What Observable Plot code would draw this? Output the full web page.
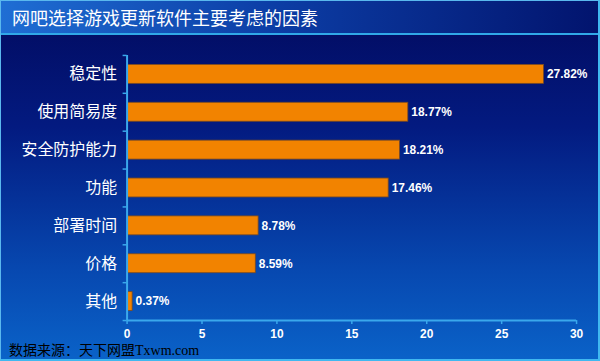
<!DOCTYPE html>
<html><head><meta charset="utf-8">
<script src="https://cdn.jsdelivr.net/npm/d3@7"></script>
<script src="https://cdn.jsdelivr.net/npm/@observablehq/plot@0.6"></script>
<style>
html,body{margin:0;padding:0;}
#wrap{position:relative;width:600px;height:361px;overflow:hidden;box-sizing:border-box;
 background:linear-gradient(to bottom,#020a5e 0%,#031a80 35%,#0748b0 75%,#0a62c8 100%);
 border:1px solid #5ab8ee;border-right:2px solid #40b8f0;border-bottom:2px solid #40b8f0;font-family:"Noto Sans CJK SC",sans-serif;}
#title{position:absolute;left:0;top:0;width:100%;height:34px;box-sizing:border-box;
 background:linear-gradient(to right,#1f6ed4 0%,#0c3ea6 45%,#02146e 100%);border-bottom:2px solid #30a8e8;
 color:#fff;font-size:18px;line-height:33px;padding-left:11px;}
#chart{position:absolute;left:-1px;top:36px;}
#caption{position:absolute;left:8px;top:342px;font-family:"Liberation Serif","Noto Sans CJK SC",serif;font-size:14px;line-height:15px;color:#000;}
</style></head>
<body><div id="wrap">
<div id="title">网吧选择游戏更新软件主要考虑的因素</div>
<div id="chart"></div>
<div id="caption">数据来源：天下网盟Txwm.com</div>
</div>
<script>
const categories = ["稳定性","使用简易度","安全防护能力","功能","部署时间","价格","其他"];
const values = [27.82, 18.77, 18.21, 17.46, 8.78, 8.59, 0.37];
const xTicks = [0,5,10,15,20,25,30];

const data = categories.map((c,i)=>({cat:c, v:values[i], i}));
const axisColor = "#3aa8ec";

const chart = Plot.plot({
  width: 600, height: 304,
  marginLeft: 127, marginRight: 22, marginTop: 18, marginBottom: 20,
  style: {background: "transparent", overflow: "visible"},
  x: {domain: [0,30], ticks: xTicks},
  y: {domain: [0,7], reverse: true},
  marks: [
    Plot.rectX(data, {x1: 0, x2: "v", y1: d=>d.i, y2: d=>d.i+1, insetTop: 9.5, insetBottom: 9.5, insetLeft: 1,
      fill: "#f28300", stroke: "#7a4a22", strokeWidth: 0.8}),
    Plot.text(data, {x: "v", y: d=>d.i+0.5, text: d=>d.v.toFixed(2)+"%", textAnchor: "start", dx: 3,
      fill: "#fff", fontSize: 12, fontWeight: "bold", fontFamily: "Liberation Sans, Arial, sans-serif"}),
    Plot.ruleY([7], {stroke: axisColor, strokeWidth: 2}),
    Plot.ruleX([0], {stroke: axisColor, strokeWidth: 2}),
    Plot.axisX({ticks: xTicks, tickSize: 4, tickPadding: 5, stroke: axisColor, color: "#fff",
      fontSize: 12, fontWeight: "bold", fontFamily: "Liberation Sans, Arial, sans-serif", label: null, strokeWidth: 1.5}),
    Plot.axisY({ticks: d3.range(8), tickSize: 4, tickFormat: ()=>"", stroke: axisColor, strokeWidth: 1.5, label: null}),
    Plot.axisY({ticks: categories.map((c,i)=>i+0.5), tickSize: 0, tickPadding: 10,
      tickFormat: t=>categories[Math.floor(t)], fill: "#fff", color: "#fff", fontSize: 16,
      fontFamily: "Noto Sans CJK SC, sans-serif", label: null})
  ]
});
document.getElementById("chart").appendChild(chart);
</script>
</body></html>
